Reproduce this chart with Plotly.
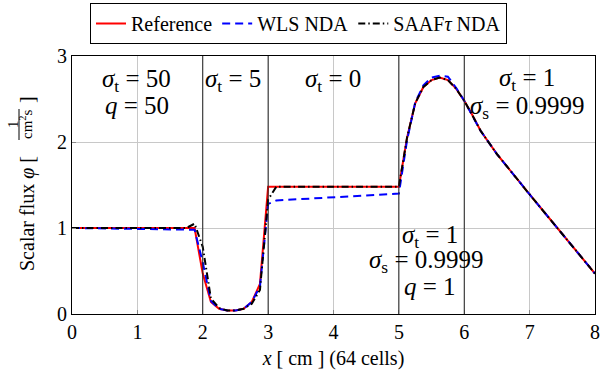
import plotly.graph_objects as go

# ---- data ----
x_nodes = [0.0, 1.75, 1.875, 2.0, 2.125, 2.25, 2.375, 2.5, 2.625, 2.75, 2.875, 3.0, 3.125,
           5.0, 5.125, 5.25, 5.375, 5.5, 5.625, 5.75, 5.875, 6.0, 6.125, 6.25,
           6.5, 6.75, 7.0, 7.25, 7.5, 7.75, 8.0]
reference = [1.0, 1.0, 1.0, 0.47, 0.14, 0.06, 0.04, 0.04, 0.06, 0.14, 0.35, 1.48, 1.48,
             1.48, 2.05, 2.45, 2.64, 2.72, 2.75, 2.72, 2.62, 2.48, 2.31, 2.13,
             1.86, 1.62, 1.39, 1.16, 0.93, 0.70, 0.47]
wls_nda = [1.0, 0.985, 0.98, 0.60, 0.15, 0.06, 0.04, 0.04, 0.06, 0.14, 0.32, 1.28, 1.32,
           1.40, 2.02, 2.46, 2.66, 2.75, 2.77, 2.76, 2.63, 2.48, 2.31, 2.13,
           1.86, 1.62, 1.39, 1.16, 0.93, 0.70, 0.47]
saaf_nda = [1.0, 1.0, 1.05, 0.78, 0.18, 0.07, 0.04, 0.04, 0.06, 0.12, 0.28, 1.33, 1.48,
            1.48, 2.05, 2.45, 2.64, 2.72, 2.75, 2.72, 2.62, 2.48, 2.31, 2.13,
            1.86, 1.62, 1.39, 1.16, 0.93, 0.70, 0.47]
series_names = ["Reference", "WLS NDA", "SAAF<i>τ</i> NDA"]
region_bounds = [2, 3, 5, 6]
x_ticks = [0, 1, 2, 3, 4, 5, 6, 7, 8]
y_ticks = [0, 1, 2, 3]

FONT = "'Liberation Serif', 'Times New Roman', Times, 'DejaVu Serif', serif"
W, H = 606, 375

fig = go.Figure()
fig.add_trace(go.Scatter(x=x_nodes, y=reference, mode="lines", name=series_names[0],
                         line=dict(color="#ff0000", width=2)))
fig.add_trace(go.Scatter(x=x_nodes, y=wls_nda, mode="lines", name=series_names[1],
                         line=dict(color="#0000ff", width=2, dash="8px,5px")))
fig.add_trace(go.Scatter(x=x_nodes, y=saaf_nda, mode="lines", name=series_names[2],
                         line=dict(color="#000000", width=2, dash="7px,3px,1.5px,3px")))

for b in region_bounds:
    fig.add_shape(type="line", xref="x", yref="paper", x0=b, x1=b, y0=0, y1=1,
                  line=dict(color="#222222", width=1), layer="above")

# helper for pixel -> paper
L, R, T, B = 72, 595, 56, 314
def px(p):
    return (p - L) / (R - L)
def py(p):
    return (B - p) / (B - T)

ann_font = dict(family=FONT, size=25, color="black")
texts = [
    ("<i>σ</i><sub>t</sub> = 50", 0.98, 2.72),
    ("<i>q</i> = 50", 1.0, 2.43),
    ("<i>σ</i><sub>t</sub> = 5", 2.46, 2.72),
    ("<i>σ</i><sub>t</sub> = 0", 3.99, 2.72),
    ("<i>σ</i><sub>t</sub> = 1", 6.96, 2.73),
    ("<i>σ</i><sub>s</sub> = 0.9999", 6.97, 2.40),
    ("<i>σ</i><sub>t</sub> = 1", 5.47, 0.90),
    ("<i>σ</i><sub>s</sub> = 0.9999", 5.42, 0.61),
    ("<i>q</i> = 1", 5.47, 0.32),
]
for t, xx, yy in texts:
    fig.add_annotation(text=t, x=xx, y=yy, xref="x", yref="y", showarrow=False,
                       font=ann_font, xanchor="center", yanchor="middle")

# y axis label built from pieces
lab_font = dict(family=FONT, size=20, color="black")
small_font = dict(family=FONT, size=15, color="black")
fig.add_annotation(text="Scalar flux <i>φ</i> [", x=px(27), y=py(214), xref="paper", yref="paper",
                   showarrow=False, textangle=-90, font=lab_font, xanchor="center", yanchor="middle")
fig.add_annotation(text="1", x=px(13), y=py(124), xref="paper", yref="paper",
                   showarrow=False, textangle=-90, font=small_font, xanchor="center", yanchor="middle")
fig.add_annotation(text="cm<sup>2</sup>s", x=px(26), y=py(124), xref="paper", yref="paper",
                   showarrow=False, textangle=-90, font=small_font, xanchor="center", yanchor="middle")
fig.add_annotation(text="]", x=px(27), y=py(100), xref="paper", yref="paper",
                   showarrow=False, textangle=-90, font=lab_font, xanchor="center", yanchor="middle")
fig.add_shape(type="line", xref="paper", yref="paper", x0=px(19), x1=px(19), y0=py(109), y1=py(140),
              line=dict(color="black", width=1))

fig.update_layout(
    width=W, height=H,
    margin=dict(l=L, r=W - R, t=T, b=H - B, autoexpand=False),
    paper_bgcolor="white", plot_bgcolor="white",
    font=dict(family=FONT, size=20, color="black"),
    showlegend=True,
    legend=dict(orientation="h", xref="container", yref="container",
                x=90 / W, y=1 - 3 / H, xanchor="left", yanchor="top",
                bordercolor="black", borderwidth=1, bgcolor="white",
                font=dict(family=FONT, size=20), itemwidth=30, tracegroupgap=0),
)
fig.update_xaxes(range=[0, 8], tickvals=x_ticks, showgrid=True, gridcolor="#c8c8c8", gridwidth=1,
                 showline=True, linecolor="black", linewidth=1, mirror=True,
                 ticks="inside", ticklen=4, tickcolor="#888888", zeroline=False, automargin=False,
                 tickfont=dict(family=FONT, size=20),
                 title=dict(text="<i>x</i> [ cm ] (64 cells)", font=dict(family=FONT, size=20), standoff=8))
fig.update_yaxes(range=[0, 3], tickvals=y_ticks, showgrid=True, gridcolor="#c8c8c8", gridwidth=1,
                 showline=True, linecolor="black", linewidth=1, mirror=True,
                 ticks="inside", ticklen=4, tickcolor="#888888", zeroline=False, automargin=False,
                 tickfont=dict(family=FONT, size=20))

fig.write_html("out.html", config={"displayModeBar": False},
               post_script="document.body.style.margin='0';document.body.style.overflow='hidden';")
